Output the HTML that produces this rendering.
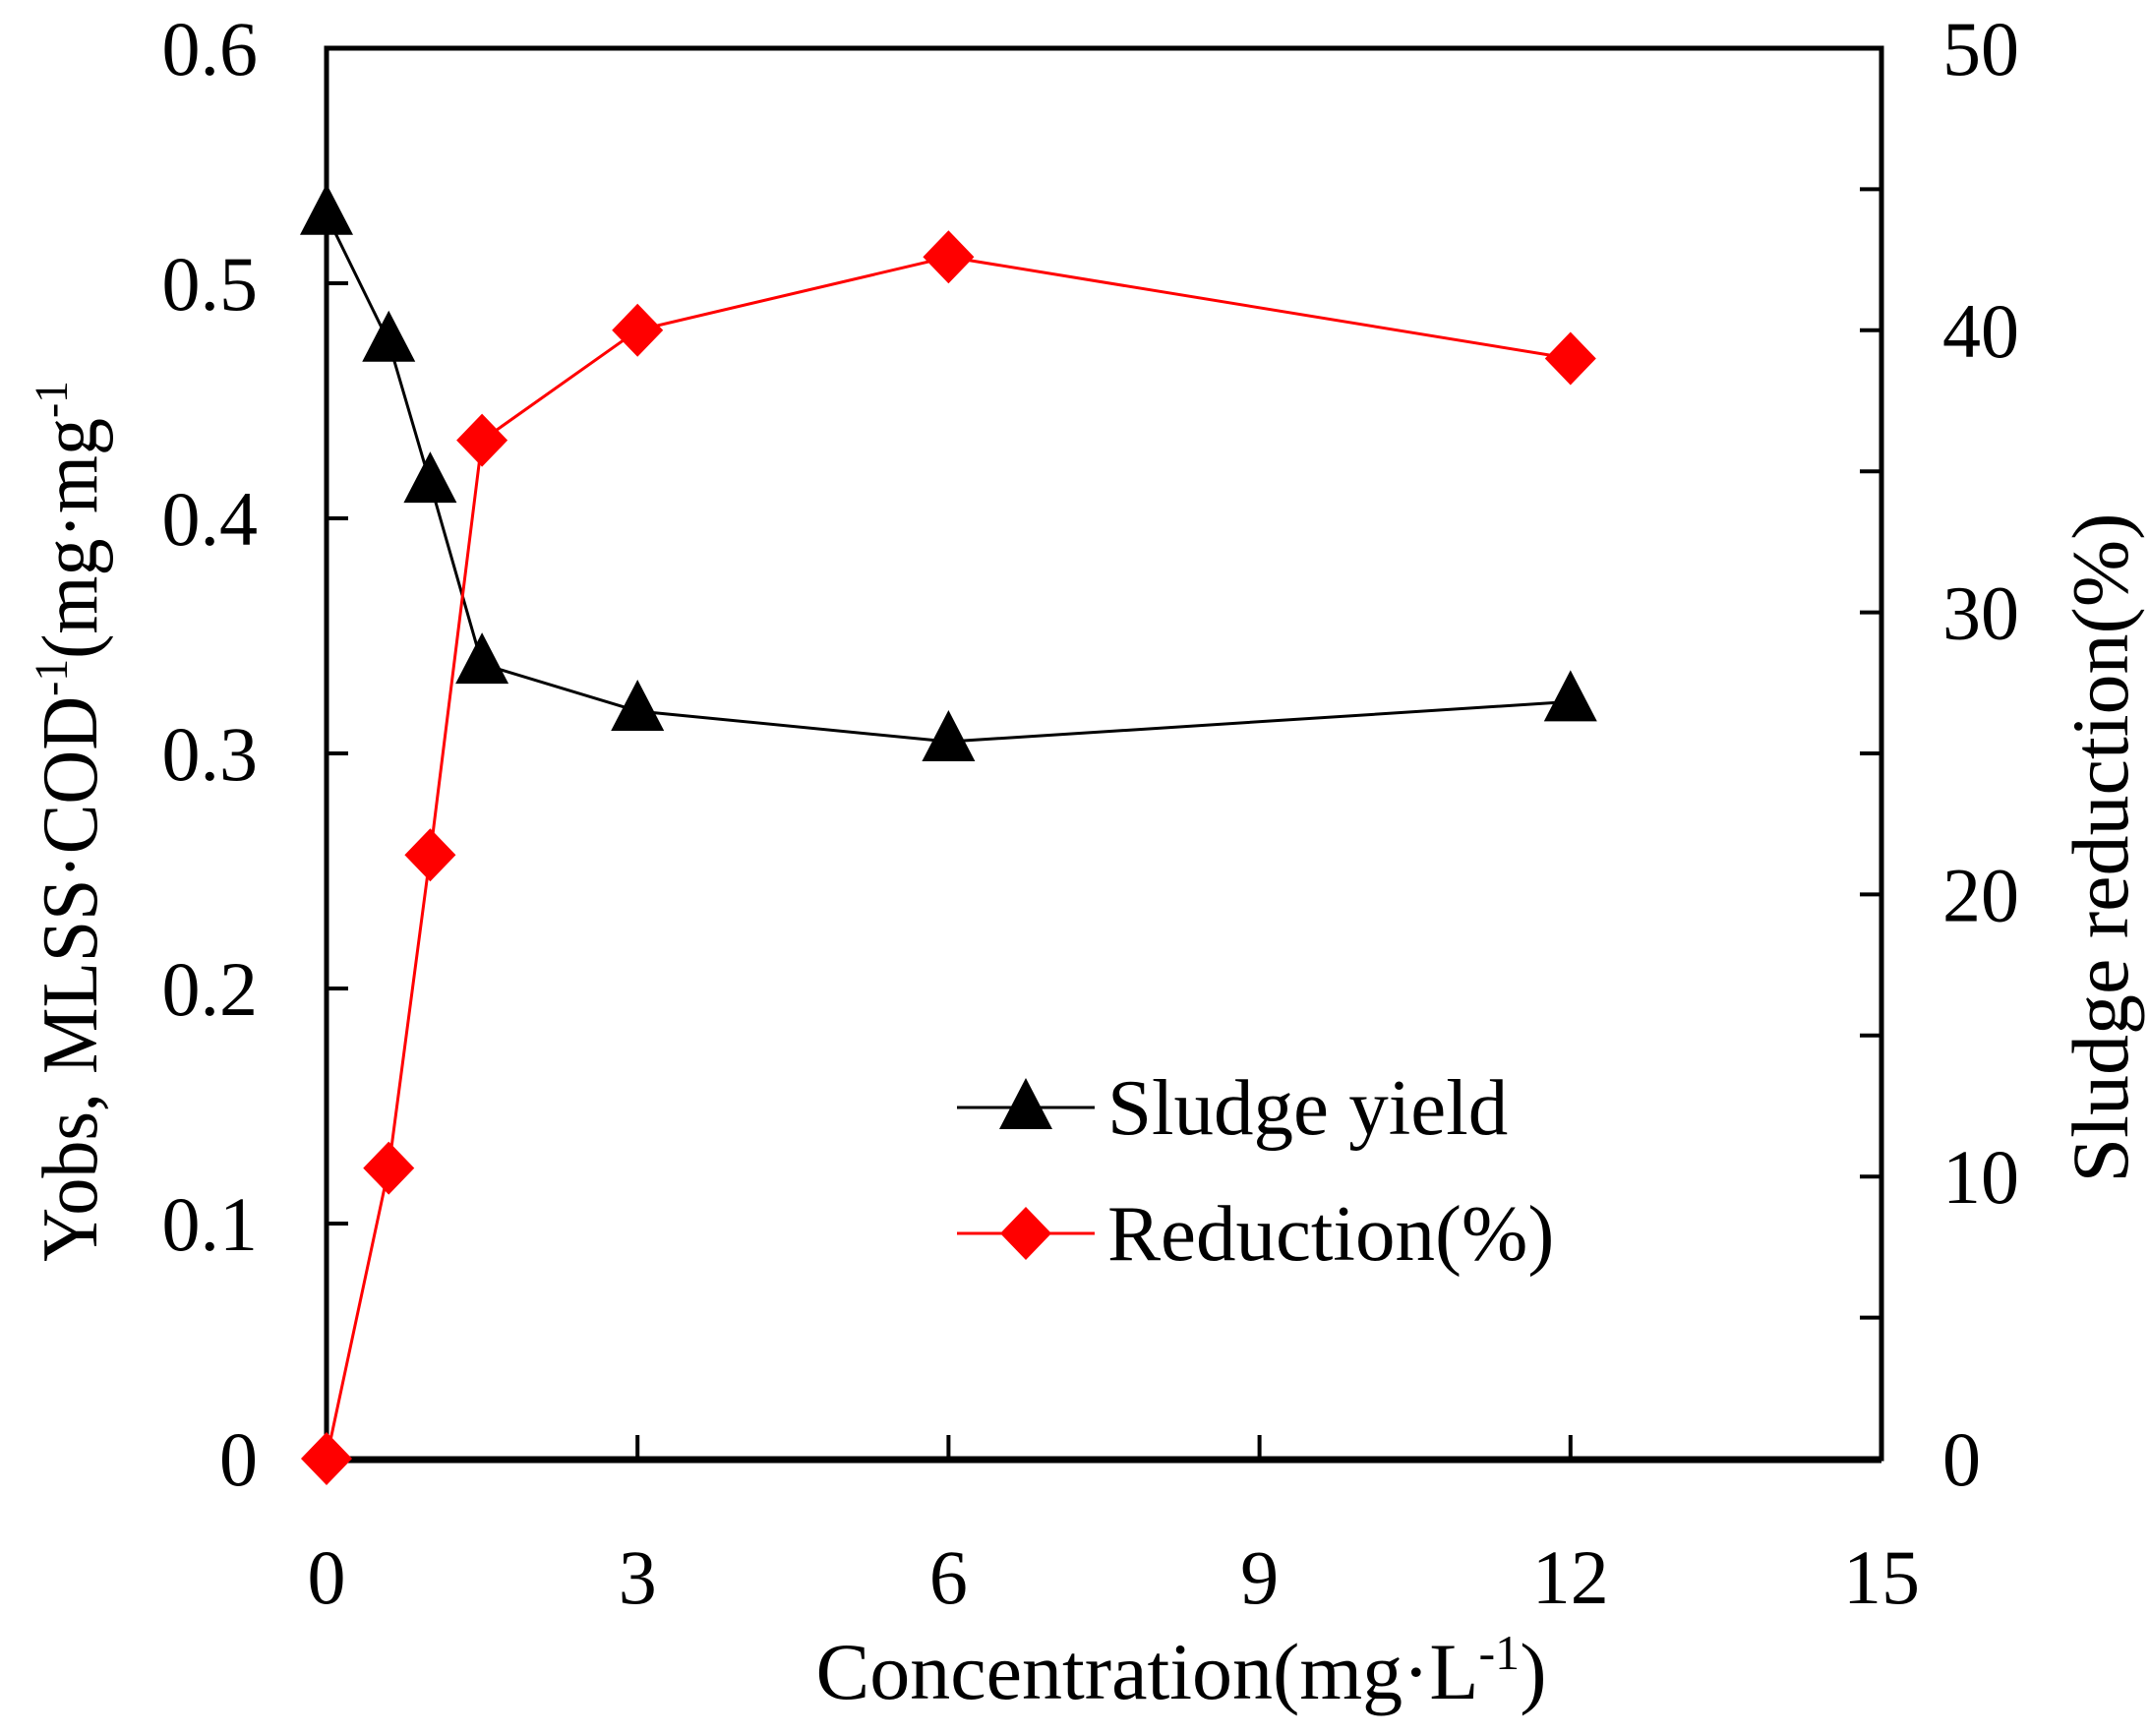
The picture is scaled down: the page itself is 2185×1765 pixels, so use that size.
<!DOCTYPE html>
<html><head><meta charset="utf-8"><style>
html,body{margin:0;padding:0;background:#fff;}
svg{display:block;font-family:"Liberation Serif",serif;}
</style></head><body>
<svg id="chart" width="2185" height="1765" viewBox="0 0 2185 1765" xmlns="http://www.w3.org/2000/svg"></svg>
<script>
const concentrations = [0, 0.6, 1, 1.5, 3, 6, 12];
const sludgeYield = [0.529, 0.475, 0.415, 0.338, 0.318, 0.305, 0.322];
const reduction = [0, 10.3, 21.4, 36.1, 40.0, 42.6, 39.0];
const xTicks = [0, 3, 6, 9, 12, 15];
const yLeftTicks = [0, 0.1, 0.2, 0.3, 0.4, 0.5, 0.6];
const yLeftLabels = ["0", "0.1", "0.2", "0.3", "0.4", "0.5", "0.6"];
const yRightTicks = [0, 5, 10, 15, 20, 25, 30, 35, 40, 45, 50];
const yRightLabels = ["0", "10", "20", "30", "40", "50"];

const NS = "http://www.w3.org/2000/svg";
const svg = document.getElementById("chart");
const L = 332, R = 1913, T = 49, B = 1483;
const xs = v => L + (v - 0) / 15 * (R - L);
const yl = v => B - v / 0.6 * (B - T);
const yr = v => B - v / 50 * (B - T);

function mk(tag, attrs, parent) {
  const e = document.createElementNS(NS, tag);
  for (const k in attrs) e.setAttribute(k, attrs[k]);
  (parent || svg).appendChild(e);
  return e;
}

const frame = mk("rect", {x: L, y: T, width: R - L, height: B - T, fill: "none", stroke: "#000", "stroke-width": 5});


const xAxisLine = mk("line", {x1: L, y1: B + 1, x2: R, y2: B + 1, stroke: "#000", "stroke-width": 7});



xTicks.forEach(t => {
  const x = xs(t);
  if (t > 0 && t < 15) {
    const tk = mk("line", {x1: x, y1: B, x2: x, y2: B - 24, stroke: "#000", "stroke-width": 4});
    
    
  }
  const tx = mk("text", {x: x, y: 1630, "font-size": 78, "text-anchor": "middle"});
  tx.textContent = String(t);
  
  
});

yLeftTicks.forEach((t, i) => {
  const y = yl(t);
  if (t > 0 && t < 0.6) {
    const tk = mk("line", {x1: L, y1: y, x2: L + 22, y2: y, stroke: "#000", "stroke-width": 4});
    
    
  }
  const tx = mk("text", {x: 262, y: y + 27, "font-size": 78, "text-anchor": "end"});
  tx.textContent = yLeftLabels[i];
  
  
});

yRightTicks.forEach(t => {
  const y = yr(t);
  if (t > 0 && t < 50) {
    const tk = mk("line", {x1: R, y1: y, x2: R - 22, y2: y, stroke: "#000", "stroke-width": 4});
    
    
  }
});
yRightLabels.forEach(lab => {
  const y = yr(Number(lab));
  const tx = mk("text", {x: 1975, y: y + 27, "font-size": 78, "text-anchor": "start"});
  tx.textContent = lab;
  
  
});

const yieldLine = mk("polyline", {points: concentrations.map((c, i) => xs(c) + "," + yl(sludgeYield[i])).join(" "), fill: "none", stroke: "#000", "stroke-width": 3});


const redLine = mk("polyline", {points: concentrations.map((c, i) => xs(c) + "," + yr(reduction[i])).join(" "), fill: "none", stroke: "#ff0000", "stroke-width": 3});



function tri(cx, cy) {
  return mk("polygon", {points: `${cx},${cy - 32} ${cx - 27},${cy + 20} ${cx + 27},${cy + 20}`, fill: "#000"});
}
function dia(cx, cy) {
  return mk("polygon", {points: `${cx},${cy - 27} ${cx + 26},${cy} ${cx},${cy + 27} ${cx - 26},${cy}`, fill: "#ff0000"});
}
concentrations.forEach((c, i) => {
  const m = tri(xs(c), yl(sludgeYield[i]));
  
  
});
concentrations.forEach((c, i) => {
  const m = dia(xs(c), yr(reduction[i]));
  
  
});

const lg1 = mk("line", {x1: 973, y1: 1126, x2: 1113, y2: 1126, stroke: "#000", "stroke-width": 3});


const lm1 = tri(1043, 1128);


const lt1 = mk("text", {x: 1126, y: 1153, "font-size": 81});
lt1.textContent = "Sludge yield";


const lg2 = mk("line", {x1: 973, y1: 1254, x2: 1113, y2: 1254, stroke: "#ff0000", "stroke-width": 3});


const lm2 = dia(1043, 1254);


const lt2 = mk("text", {x: 1126, y: 1281, "font-size": 81});
lt2.textContent = "Reduction(%)";



const xt = mk("text", {x: 1201, y: 1727, "font-size": 82, "text-anchor": "middle"});
xt.innerHTML = 'Concentration(mg·L<tspan dy="-30" font-size="50">-1</tspan><tspan dy="30">)</tspan>';


const ylt = mk("text", {x: 0, y: 0, "font-size": 80, "text-anchor": "middle", transform: "translate(98,835) rotate(-90) scale(0.95,1)"});
ylt.innerHTML = 'Yobs, MLSS·COD<tspan dy="-30" font-size="48">-1</tspan><tspan dy="30">(mg·mg</tspan><tspan dy="-30" font-size="48">-1</tspan>';


const yrt = mk("text", {x: 0, y: 0, "font-size": 82, "text-anchor": "middle", transform: "translate(2163,862) rotate(-90)"});
yrt.textContent = "Sludge reduction(%)";


</script>
</body></html>
